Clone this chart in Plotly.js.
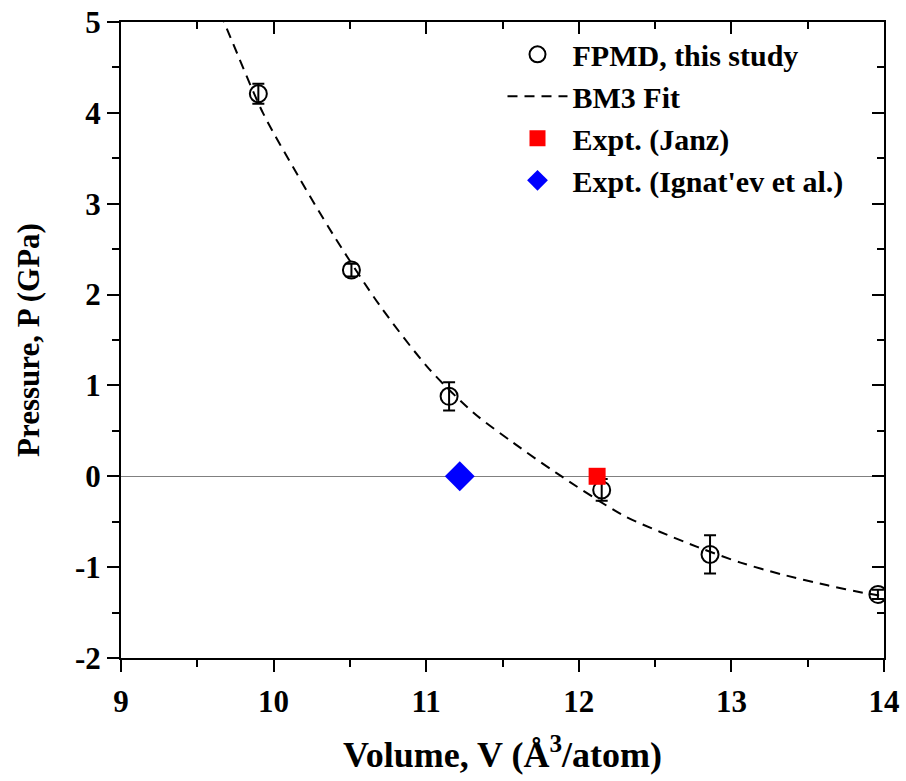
<!DOCTYPE html>
<html>
<head>
<meta charset="utf-8">
<script src="https://cdn.plot.ly/plotly-3.0.1.min.js"></script>
<style>html,body{margin:0;padding:0;background:#fff;}#chart{width:906px;height:781px;}</style>
</head>
<body>
<div id="chart"></div>
<script>
// FPMD data (this study)
const fpmdV = [9.90, 10.51, 11.15, 12.15, 12.86, 13.96];
const fpmdP = [4.21, 2.27, 0.88, -0.15, -0.86, -1.30];
const fpmdErr = [0.11, 0.07, 0.155, 0.12, 0.21, 0.05];

// BM3 fit curve
const fitV = [9.65, 9.72, 9.93, 10.17, 10.39, 10.70, 11.02, 11.31, 11.57, 11.85, 12.28, 12.53, 12.78, 13.06, 13.33, 13.63, 13.89, 14.0];
const fitP = [5.10, 4.82, 4.00, 3.28, 2.66, 1.87, 1.18, 0.70, 0.37, 0.04, -0.42, -0.61, -0.78, -0.95, -1.08, -1.20, -1.29, -1.32];

// Experiments
const janzV = [12.12];
const janzP = [0.0];
const ignatevV = [11.22];
const ignatevP = [0.0];

const xTicks = [9, 10, 11, 12, 13, 14];
const yTicks = [-2, -1, 0, 1, 2, 3, 4, 5];

const F = '"Liberation Serif", "Times New Roman", serif';

const traces = [
  {
    x: fpmdV, y: fpmdP, type: 'scatter', mode: 'markers', name: 'FPMD, this study',
    marker: {symbol: 'circle-open', size: 17, color: '#000', line: {width: 2, color: '#000'}},
    error_y: {type: 'data', array: fpmdErr, visible: true, color: '#000', thickness: 2, width: 6}
  },
  {
    x: fitV, y: fitP, type: 'scatter', mode: 'lines', name: 'BM3 Fit',
    line: {color: '#000', width: 2, dash: '10px,7px', shape: 'spline', smoothing: 0.8}
  },
  {
    x: janzV, y: janzP, type: 'scatter', mode: 'markers', name: 'Expt. (Janz)',
    marker: {symbol: 'square', size: 17, color: '#ff0000'}
  },
  {
    x: ignatevV, y: ignatevP, type: 'scatter', mode: 'markers', name: "Expt. (Ignat'ev et al.)",
    marker: {symbol: 'diamond', size: 23, color: '#0000ff'}
  },
  {
    x: [], y: [], xaxis: 'x2', yaxis: 'y2', type: 'scatter', mode: 'markers', showlegend: false, hoverinfo: 'skip'
  }
];

const axisCommon = {
  showline: true, linecolor: '#000', linewidth: 2, showgrid: false,
  ticks: 'outside', ticklen: 12, tickwidth: 2, tickcolor: '#000',
  tickfont: {family: F, size: 31, color: '#000', weight: 'bold'}
};

const layout = {
  width: 906, height: 781,
  margin: {l: 121, r: 22, t: 22, b: 123},
  paper_bgcolor: '#fff', plot_bgcolor: '#fff',
  showlegend: true,
  legend: {
    x: 0.5, y: 0.99, xanchor: 'left', yanchor: 'top',
    bgcolor: 'rgba(0,0,0,0)', borderwidth: 0,
    font: {family: F, size: 30, color: '#000', weight: 'bold'},
    itemwidth: 60, tracegroupgap: 0
  },
  xaxis: Object.assign({}, axisCommon, {
    range: [9, 14], tickvals: xTicks, ticktext: xTicks.map(String), zeroline: false,
    ticklabelstandoff: 3,
    minor: {dtick: 0.5, ticks: 'outside', ticklen: 7, tickwidth: 2, tickcolor: '#000', showgrid: false},
    title: {text: 'Volume, V (Å<sup>3</sup>/atom)', font: {family: F, size: 36, color: '#000', weight: 'bold'}, standoff: 24}
  }),
  yaxis: Object.assign({}, axisCommon, {
    range: [-2, 5], tickvals: yTicks, ticktext: yTicks.map(String),
    zeroline: true, zerolinecolor: '#808080', zerolinewidth: 1.5,
    minor: {dtick: 0.5, ticks: 'outside', ticklen: 7, tickwidth: 2, tickcolor: '#000', showgrid: false},
    title: {text: 'Pressure, P (GPa)', font: {family: F, size: 31, color: '#000', weight: 'bold'}, standoff: 26}
  }),
  xaxis2: {
    overlaying: 'x', side: 'top', anchor: 'y', range: [9, 14], tickvals: xTicks,
    showticklabels: false, showline: true, linecolor: '#000', linewidth: 2, showgrid: false, zeroline: false,
    ticks: 'inside', ticklen: 12, tickwidth: 2, tickcolor: '#000',
    minor: {dtick: 0.5, ticks: 'inside', ticklen: 7, tickwidth: 2, tickcolor: '#000', showgrid: false}
  },
  yaxis2: {
    overlaying: 'y', side: 'right', anchor: 'x', range: [-2, 5], tickvals: yTicks,
    showticklabels: false, showline: true, linecolor: '#000', linewidth: 2, showgrid: false, zeroline: false,
    ticks: 'inside', ticklen: 12, tickwidth: 2, tickcolor: '#000',
    minor: {dtick: 0.5, ticks: 'inside', ticklen: 7, tickwidth: 2, tickcolor: '#000', showgrid: false}
  }
};

Plotly.newPlot('chart', traces, layout, {displayModeBar: false, staticPlot: true});
</script>
</body>
</html>
